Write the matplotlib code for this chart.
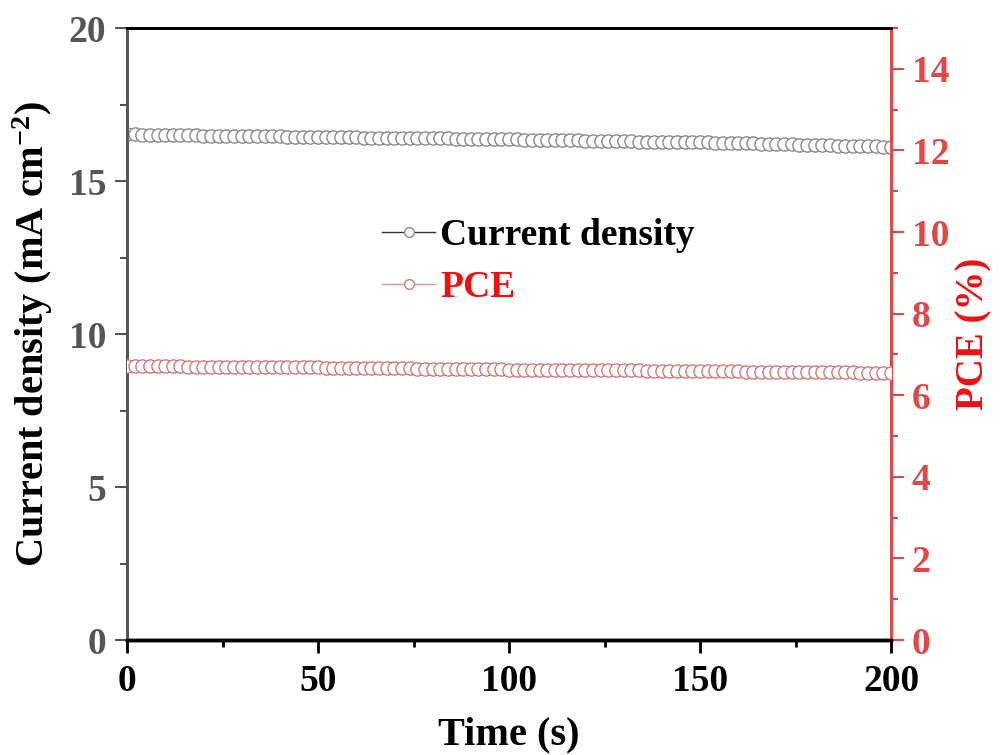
import numpy as np
import matplotlib
matplotlib.use("Agg")
import matplotlib.pyplot as plt
from matplotlib.lines import Line2D
from matplotlib.ticker import MultipleLocator

plt.rcParams['font.family'] = ['Liberation Serif', 'DejaVu Serif']
plt.rcParams['font.weight'] = 'bold'
plt.rcParams['mathtext.fontset'] = 'custom'
plt.rcParams['mathtext.rm'] = 'Liberation Serif:bold'
plt.rcParams['mathtext.it'] = 'Liberation Serif:bold'
plt.rcParams['mathtext.bf'] = 'Liberation Serif:bold'

time_s = list(range(0, 201, 2))
current_density = [
    16.52, 16.52, 16.51, 16.51, 16.50, 16.50, 16.50, 16.49, 16.49, 16.49,
    16.48, 16.48, 16.48, 16.47, 16.47, 16.47, 16.47, 16.46, 16.46, 16.46,
    16.46, 16.45, 16.45, 16.45, 16.45, 16.44, 16.44, 16.44, 16.43, 16.43,
    16.43, 16.42, 16.42, 16.42, 16.41, 16.41, 16.41, 16.40, 16.40, 16.40,
    16.39, 16.39, 16.39, 16.38, 16.38, 16.38, 16.37, 16.37, 16.37, 16.36,
    16.36, 16.36, 16.35, 16.35, 16.34, 16.34, 16.34, 16.33, 16.33, 16.33,
    16.32, 16.32, 16.31, 16.31, 16.31, 16.30, 16.30, 16.29, 16.29, 16.29,
    16.28, 16.28, 16.27, 16.27, 16.27, 16.26, 16.26, 16.25, 16.25, 16.24,
    16.24, 16.23, 16.23, 16.22, 16.22, 16.21, 16.21, 16.20, 16.19, 16.19,
    16.18, 16.18, 16.17, 16.16, 16.16, 16.15, 16.14, 16.14, 16.13, 16.12,
    16.11]
pce = [
    6.72, 6.72, 6.72, 6.71, 6.71, 6.71, 6.71, 6.71, 6.70, 6.70,
    6.70, 6.70, 6.70, 6.70, 6.69, 6.69, 6.69, 6.69, 6.69, 6.69,
    6.68, 6.68, 6.68, 6.68, 6.68, 6.68, 6.67, 6.67, 6.67, 6.67,
    6.67, 6.67, 6.66, 6.66, 6.66, 6.66, 6.66, 6.66, 6.65, 6.65,
    6.65, 6.65, 6.65, 6.65, 6.64, 6.64, 6.64, 6.64, 6.64, 6.64,
    6.63, 6.63, 6.63, 6.63, 6.63, 6.63, 6.62, 6.62, 6.62, 6.62,
    6.62, 6.62, 6.61, 6.61, 6.61, 6.61, 6.61, 6.61, 6.60, 6.60,
    6.60, 6.60, 6.60, 6.60, 6.60, 6.59, 6.59, 6.59, 6.59, 6.59,
    6.59, 6.58, 6.58, 6.58, 6.58, 6.58, 6.57, 6.57, 6.57, 6.57,
    6.57, 6.56, 6.56, 6.56, 6.56, 6.56, 6.55, 6.55, 6.55, 6.54,
    6.54]

gray = '#555555'
red_axis = '#e04848'
red_text = '#ee1111'
cur_marker = '#8a8a8a'
pce_marker = '#d47a7a'

fig = plt.figure(figsize=(10, 7.55), dpi=100)
ax = fig.add_axes([0.127, 0.1523, 0.764, 0.8106])
ax2 = ax.twinx()

ms = 9.5
ax.plot(time_s, current_density, linestyle='none', marker='o', ms=ms,
        mfc='white', mec=cur_marker, mew=1.0, zorder=3)
ax2.plot(time_s, pce, linestyle='none', marker='o', ms=ms,
         mfc='white', mec=pce_marker, mew=1.0, zorder=3)

ax.set_xlim(0, 200)
ax.set_ylim(0, 20)
ax2.set_ylim(0, 15)

ax.xaxis.set_major_locator(MultipleLocator(50))
ax.xaxis.set_minor_locator(MultipleLocator(25))
ax.yaxis.set_major_locator(MultipleLocator(5))
ax.yaxis.set_minor_locator(MultipleLocator(2.5))
ax2.yaxis.set_major_locator(MultipleLocator(2))
ax2.yaxis.set_minor_locator(MultipleLocator(1))

fs_tick = 27
ax.tick_params(axis='x', which='major', direction='out', length=9, width=2,
               colors='black', labelsize=fs_tick, pad=8, top=False)
ax.tick_params(axis='x', which='minor', direction='out', length=5, width=2,
               colors='black', top=False)
ax.tick_params(axis='y', which='major', direction='out', length=9, width=1.5,
               colors=gray, labelsize=fs_tick, pad=6)
ax.tick_params(axis='y', which='minor', direction='out', length=5, width=1.5,
               colors=gray)
ax2.tick_params(axis='y', which='major', direction='out', length=9, width=1.5,
                colors=red_axis, labelsize=fs_tick, pad=6)
ax2.tick_params(axis='y', which='minor', direction='out', length=5, width=1.5,
                colors=red_axis)

for a in (ax, ax2):
    a.spines['bottom'].set_color('black')
    a.spines['bottom'].set_linewidth(2.5)
    a.spines['top'].set_color('black')
    a.spines['top'].set_linewidth(2)
    a.spines['left'].set_color(gray)
    a.spines['left'].set_linewidth(2)
    a.spines['right'].set_color(red_axis)
    a.spines['right'].set_linewidth(2)

for lab in ax.get_xticklabels() + ax.get_yticklabels() + ax2.get_yticklabels():
    lab.set_fontweight('bold')

ax.set_xlabel('Time (s)', fontsize=29, fontweight='bold', color='black', labelpad=13)
ax.set_ylabel('Current density (mA cm$^{-2}$)', fontsize=29, fontweight='bold',
              color='black', labelpad=10)
ax2.set_ylabel('PCE (%)', fontsize=28, fontweight='bold', color=red_text, labelpad=4)

handles = [
    Line2D([], [], color='#333333', lw=1, marker='o', ms=7, mfc='white',
           mec=cur_marker, mew=1.0),
    Line2D([], [], color='#d89a9a', lw=1, marker='o', ms=7, mfc='white',
           mec=pce_marker, mew=1.0),
]
leg = ax.legend(handles, ['Current density', 'PCE'], loc='upper left',
                bbox_to_anchor=(0.29, 0.745), frameon=False,
                handlelength=1.4, handletextpad=0.15, labelspacing=0.45,
                prop={'family': 'Liberation Serif', 'weight': 'bold', 'size': 27})
leg.get_texts()[0].set_color('black')
leg.get_texts()[1].set_color(red_text)

fig.savefig('out.png', dpi=100)
